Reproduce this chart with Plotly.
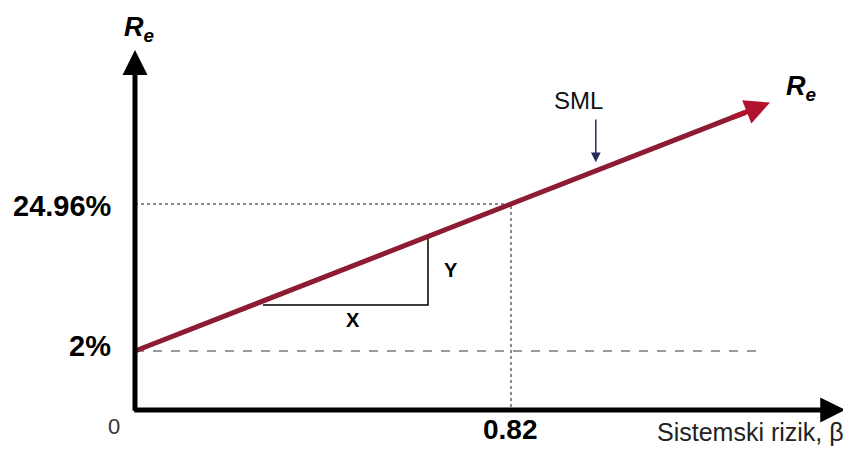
import plotly.graph_objects as go

# ---- data (schematic SML diagram) ----
risk_free = 2.0            # %
beta_point = 0.82
return_point = 24.96       # %
sml_beta = [0.0, 0.82, 1.385]
sml_return = [2.0, 24.96, 40.8]
rf_line_beta = [0.0, 1.357]
rf_line_return = [2.0, 2.0]
axis_origin_y = -7.2       # where the drawn beta axis sits (schematic)
x_axis_end = 1.549
y_axis_end = 49.0
tri_beta = [0.279, 0.639, 0.639]
tri_return = [9.2, 9.2, 19.9]
sml_pointer_beta = 1.005
y_tick_labels = ["2%", "24.96%"]
x_tick_labels = ["0.82"]

FONT = "Liberation Sans, Arial, sans-serif"
fig = go.Figure()

# dashed risk-free line
fig.add_trace(go.Scatter(x=rf_line_beta, y=rf_line_return, mode="lines",
                         line=dict(color="#9a9a9a", width=2, dash="dash"),
                         hoverinfo="skip", showlegend=False))
# dotted guides at beta=0.82
fig.add_trace(go.Scatter(x=[0, beta_point, beta_point],
                         y=[return_point, return_point, axis_origin_y],
                         mode="lines",
                         line=dict(color="#8a8a8a", width=2, dash="dot"),
                         hoverinfo="skip", showlegend=False))
# slope triangle
fig.add_trace(go.Scatter(x=tri_beta, y=tri_return, mode="lines",
                         line=dict(color="black", width=1.5),
                         hoverinfo="skip", showlegend=False))
# SML line
fig.add_trace(go.Scatter(x=sml_beta[:2] + [1.33], y=sml_return[:2] + [2 + 28 * 1.33],
                         mode="lines",
                         line=dict(color="#8c1b33", width=5),
                         hoverinfo="skip", showlegend=False))

ann = []
# axes arrows
ann.append(dict(x=0, y=y_axis_end, ax=0, ay=axis_origin_y - 0.35, xref="x", yref="y",
                axref="x", ayref="y", showarrow=True, arrowhead=2, arrowwidth=5,
                arrowsize=1, arrowcolor="black", text=""))
ann.append(dict(x=x_axis_end, y=axis_origin_y, ax=-0.005, ay=axis_origin_y, xref="x", yref="y",
                axref="x", ayref="y", showarrow=True, arrowhead=2, arrowwidth=5,
                arrowsize=1, arrowcolor="black", text=""))
# SML arrow head
ann.append(dict(x=sml_beta[2], y=sml_return[2], ax=1.30, ay=2 + 28 * 1.30, xref="x", yref="y",
                axref="x", ayref="y", showarrow=True, arrowhead=2, arrowwidth=5,
                arrowsize=1.0, arrowcolor="#b3122e", text=""))
# SML pointer arrow
ann.append(dict(x=sml_pointer_beta, y=31.5, ax=sml_pointer_beta, ay=38.4,
                xref="x", yref="y", axref="x", ayref="y", showarrow=True, arrowhead=2,
                arrowwidth=1.5, arrowsize=1.3, arrowcolor="#2b2a5c", text=""))

def txt(x, y, s, size, bold=False, color="black", xanchor="center"):
    if bold:
        s = "<b>" + s + "</b>"
    ann.append(dict(x=x, y=y, xref="x", yref="y", text=s, showarrow=False,
                    font=dict(family=FONT, size=size, color=color), xanchor=xanchor,
                    yanchor="middle"))

txt(-0.048, risk_free + 0.86, y_tick_labels[0], 29, bold=True, xanchor="right")
txt(-0.046, return_point - 0.3, y_tick_labels[1], 29, bold=True, xanchor="right")
txt(beta_point, axis_origin_y - 3.1, x_tick_labels[0], 28, bold=True)
txt(-0.046, axis_origin_y - 2.6, "0", 22, color="#333333")
txt(1.5507, axis_origin_y - 3.45, "Sistemski rizik, β", 25, color="#222222", xanchor="right")
txt(0.476, 6.84, "X", 20, bold=True)
txt(0.689, 14.66, "Y", 20, bold=True)
txt(0.968, 41.2, "SML", 24, color="#111111")
re_txt = "<b><i>R</i></b><sub><b><i>e</i></b></sub>"
txt(0.009, 52.3, re_txt, 27)
txt(1.4526, 43.1, re_txt, 27)

# page body has an 8px margin; size the figure so the drawing fits the window
fig.update_layout(
    width=843, height=450,
    margin=dict(l=0, r=0, t=0, b=0),
    plot_bgcolor="white", paper_bgcolor="white",
    annotations=ann,
    xaxis=dict(range=[-0.27699, 1.56161], visible=False, fixedrange=True),
    yaxis=dict(range=[-14.713, 55.577], visible=False, fixedrange=True),
    showlegend=False,
)

fig.write_html("out.html")
